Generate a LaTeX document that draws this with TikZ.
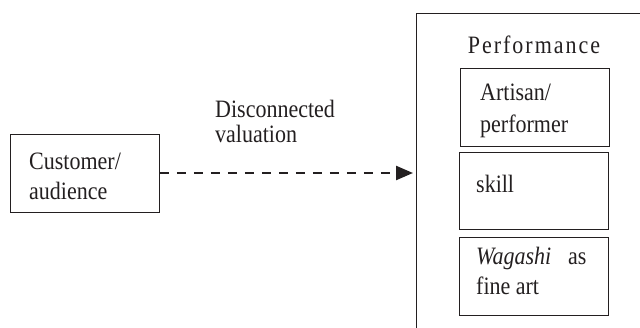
\documentclass[tikz,border=0pt]{standalone}
\usepackage{fontspec}
\setmainfont{Liberation Serif}[FakeStretch=0.88]
\usetikzlibrary{arrows.meta}
\definecolor{ink}{HTML}{231F20}
\begin{document}
\begin{tikzpicture}[x=1pt,y=-1pt,
  box/.style={draw=ink,line width=0.9pt,rectangle,inner sep=0pt},
  txt/.style={inner sep=0pt,anchor=base west,text=ink,font=\fontsize{25}{30}\selectfont,align=left},
  flow/.style={draw=ink,line width=2.4pt,dash pattern=on 9pt off 8pt,shorten >=3pt,
    -{Triangle[length=17pt,width=14pt]}}]
\useasboundingbox (0,0) rectangle (640,327);
\clip (0,0) rectangle (640,327);
% outer container, running past the right and bottom edges
\node[box,minimum width=240pt,minimum height=330pt,anchor=north west] (outer) at (416,13) {};
% customer box
\node[box,minimum width=149pt,minimum height=78pt,anchor=north west] (cust) at (10,134) {};
\node[txt] (custtxt) at (29,199) {Customer/\\audience};
% inner boxes
\node[box,minimum width=149pt,minimum height=78pt,anchor=north west] (artisan) at (460,68) {};
\node[box,minimum width=149pt,minimum height=77pt,anchor=north west] (skill) at (459,152) {};
\node[box,minimum width=149pt,minimum height=78pt,anchor=north west] (wagashi) at (459,237) {};
\node[txt,anchor=base] (perf) at (534,53) {\addfontfeature{LetterSpace=8}Performance};
\node[txt] (arttxt) at (480,132) {Artisan/\\[2pt]performer};
\node[txt] (skilltxt) at (476,192) {skill};
\node[txt] (wagtxt) at (476,294) {\textit{Wagashi}\hspace{17pt}as\\fine art};
% valuation label and dashed arrow
\node[txt,font=\fontsize{25}{25}\selectfont] (lbl) at (215,142) {Disconnected\\valuation};
\draw[flow] (cust.east |- 0,173) -- (outer.west |- 0,173);
\end{tikzpicture}
\end{document}
